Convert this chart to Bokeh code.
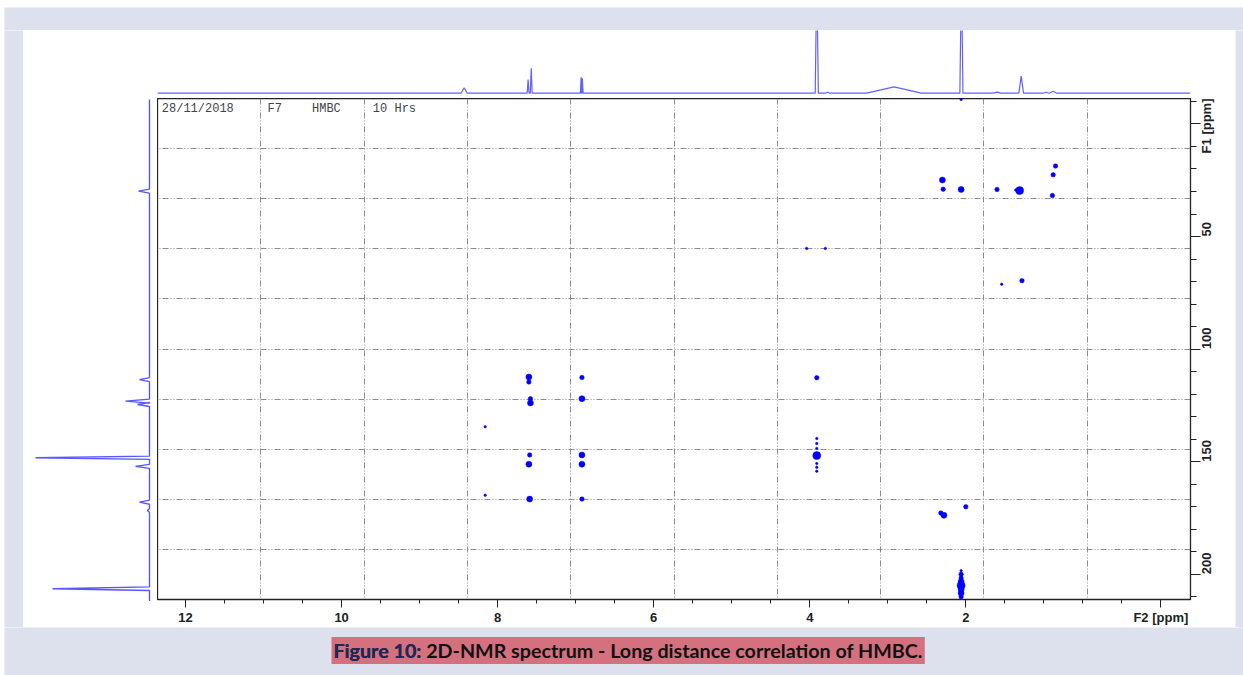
import math
from bokeh.plotting import figure
from bokeh.layouts import column, row
from bokeh.models import Range1d, FixedTicker, Label
from bokeh.embed import file_html
from bokeh.resources import INLINE

# ---------------- data ----------------
# 1H projection along F2: peak position (ppm), height (a.u.), half width (ppm)
h1_ppm = [8.43, 7.61, 7.57, 6.93, 6.915, 3.91, 3.77, 2.92, 2.056, 1.60, 1.29, 0.97, 0.88]
h1_int = [5.4, 13.7, 25.0, 16.0, 15.0, 120.0, 1.0, 6.4, 120.0, 1.0, 17.0, 1.0, 2.0]
h1_wid = [0.04, 0.012, 0.012, 0.01, 0.01, 0.02, 0.03, 0.35, 0.02, 0.05, 0.03, 0.04, 0.05]

# 13C projection along F1: peak position (ppm), height (a.u.), half width (ppm)
c13_ppm = [29.6, 112.8, 122.3, 123.8, 147.3, 151.1, 166.9, 170.6, 205.1]
c13_int = [11.0, 10.0, 24.0, 12.0, 114.0, 14.0, 10.0, 2.0, 97.0]
c13_wid = [0.9, 0.9, 0.9, 0.9, 0.7, 0.9, 0.9, 0.9, 0.8]

# HMBC cross peaks: F2 (1H, ppm), F1 (13C, ppm), contour intensity level (1..4)
xp_f2 = [7.60, 7.60, 7.58, 7.58, 7.59, 7.60, 7.59,
         6.92, 6.92, 6.92, 6.92, 6.92,
         8.16, 8.16,
         3.91, 3.91, 3.91, 3.91, 3.91, 3.91, 3.91, 3.91,
         4.04, 3.80,
         2.30, 2.29, 2.06, 1.60, 1.36, 1.31, 0.85, 0.88, 0.89, 1.54, 1.28,
         2.32, 2.28, 2.00,
         2.06, 2.06, 2.06, 2.06, 2.06, 2.06, 2.06, 2.06,
         2.06]
xp_f1 = [112.4, 114.6, 122.0, 123.9, 147.0, 151.1, 166.6,
         112.6, 122.0, 147.0, 151.1, 166.6,
         134.5, 164.9,
         112.7, 147.3, 139.7, 141.9, 144.1, 150.8, 152.5, 154.2,
         55.3, 55.3,
         24.9, 29.0, 29.1, 29.1, 29.3, 29.6, 18.7, 22.6, 31.8, 71.2, 69.6,
         172.8, 173.8, 170.0,
         198.4, 200.0, 201.7, 203.3, 205.0, 206.7, 208.3, 210.0,
         -10.9]
xp_lvl = [3, 2, 2, 3, 2, 3, 3,
          2, 3, 3, 3, 2,
          1, 1,
          2, 4, 1, 1, 1, 1, 1, 1,
          1, 1,
          3, 2, 3, 2, 1, 4, 2, 2, 2, 1, 2,
          2, 3, 2,
          1, 2, 2, 3, 4, 3, 3, 2,
          1]

x_major = [12, 10, 8, 6, 4, 2, -0.5]
x_labels = {-0.5: "F2 [ppm]"}
y_major = [0, 50, 100, 150, 200]
y_labels = {0: "F1 [ppm]"}
header_texts = ["28/11/2018", "F7", "HMBC", "10 Hrs"]
caption_a = "Figure 10:"
caption_b = "2D-NMR spectrum - Long distance correlation of HMBC."

# ---------------- styling ----------------
LAV = "#dde1ee"
BLUE = "#0000ff"
SPEC = "#4545ff"
F2_LO, F2_HI = -0.88, 12.36
F1_TOP, F1_BOT = -11.3, 211.2
BOTTOM = 25


def stick_trace(ppm, inten, wid, start, end):
    desc = start > end
    order = sorted(range(len(ppm)), key=lambda i: -ppm[i] if desc else ppm[i])
    sgn = 1 if desc else -1
    xs, ys = [start], [0.0]
    for i in order:
        xs += [ppm[i] + sgn * wid[i], ppm[i], ppm[i] - sgn * wid[i]]
        ys += [0.0, inten[i], 0.0]
    xs.append(end)
    ys.append(0.0)
    return xs, ys


def blank(w, h, left=0, top=0):
    f = figure(width=w, height=h, toolbar_location=None, output_backend="svg",
               x_range=Range1d(0, 1), y_range=Range1d(0, 1),
               x_axis_location=None, y_axis_location=None,
               min_border_left=left, min_border_right=0, min_border_top=top, min_border_bottom=0,
               background_fill_color=LAV, border_fill_color="white", outline_line_color=None)
    f.grid.visible = False
    return f


xr = Range1d(F2_HI, F2_LO)
yr = Range1d(F1_BOT, F1_TOP)

# ---------------- main 2D plot ----------------
main = figure(width=1078, height=504 + BOTTOM, x_range=xr, y_range=yr,
              y_axis_location="right", toolbar_location=None, output_backend="svg",
              min_border_left=0, min_border_top=0, min_border_right=45, min_border_bottom=BOTTOM,
              background_fill_color="white", border_fill_color="white",
              outline_line_color="#222222", outline_line_width=1.3)

span_x = F2_LO - F2_HI
span_y = F1_BOT - F1_TOP
main.xgrid.ticker = FixedTicker(ticks=[F2_HI + k * span_x / 10 for k in range(1, 10)])
main.ygrid.ticker = FixedTicker(ticks=[F1_TOP + k * span_y / 10 for k in range(1, 10)])
main.grid.grid_line_color = "#8c8c8c"
main.grid.grid_line_dash = "6 2 1 2 1 2"
main.grid.grid_line_width = 1

xa = main.xaxis[0]
xa.ticker = FixedTicker(ticks=x_major, minor_ticks=[12 - 0.5 * k for k in range(25)])
xa.major_label_overrides = x_labels
xa.major_tick_out = 8
xa.major_tick_in = 0
xa.minor_tick_out = 4
xa.minor_tick_in = 0
xa.major_label_standoff = 2

ya = main.yaxis[0]
ya.ticker = FixedTicker(ticks=y_major, minor_ticks=[-10 + 10 * k for k in range(23)])
ya.major_label_overrides = y_labels
ya.major_label_orientation = math.pi / 2
ya.major_tick_out = 10
ya.major_tick_in = 0
ya.minor_tick_out = 6
ya.minor_tick_in = 0
ya.major_label_standoff = 6

for ax in (xa, ya):
    ax.axis_line_color = "#222222"
    ax.major_tick_line_color = "#222222"
    ax.minor_tick_line_color = "#222222"
    ax.major_label_text_font = "Liberation Sans"
    ax.major_label_text_font_style = "bold"
    ax.major_label_text_font_size = "13px"
    ax.major_label_text_color = "#222222"

sizes = [{1: 2.5, 2: 4.5, 3: 6.0, 4: 8.0}[v] for v in xp_lvl]
main.scatter(x=xp_f2, y=xp_f1, size=sizes, marker="circle",
             fill_color=BLUE, line_color=BLUE, line_width=0.5)

header_x = [12.305, 10.95, 10.38, 9.60]
for t, hx in zip(header_texts, header_x):
    main.add_layout(Label(x=hx, y=-6.6, text=t, text_align="left", text_baseline="middle",
                          text_font="Liberation Mono", text_font_size="12px",
                          text_color="#444444"))

# ---------------- top 1H projection ----------------
top = figure(width=1078, height=68, x_range=xr, y_range=Range1d(-5.3, 62.7),
             toolbar_location=None, output_backend="svg",
             x_axis_location=None, y_axis_location=None,
             min_border_left=0, min_border_right=45, min_border_top=0, min_border_bottom=0,
             background_fill_color="white", border_fill_color="white", outline_line_color=None)
top.grid.visible = False
tx, ty = stick_trace(h1_ppm, h1_int, h1_wid, F2_HI, F2_LO)
top.line(tx, ty, line_color=SPEC, line_width=1.2, line_alpha=0.85)

# ---------------- left 13C projection ----------------
left = figure(width=134, height=68 + 504 + BOTTOM, x_range=Range1d(126, -8), y_range=yr,
              toolbar_location=None, output_backend="svg",
              x_axis_location=None, y_axis_location=None,
              min_border_left=0, min_border_right=0, min_border_top=68, min_border_bottom=BOTTOM,
              background_fill_color="white", border_fill_color="white", outline_line_color=None)
left.grid.visible = False
ly, lx = stick_trace(c13_ppm, c13_int, c13_wid, -10.9, 210.5)
left.line(lx, ly, line_color=SPEC, line_width=1.4, line_alpha=0.9)

# ---------------- caption ----------------
cap = figure(width=1243, height=48, x_range=Range1d(4, 1243), y_range=Range1d(675, 627),
             toolbar_location=None, output_backend="svg",
             x_axis_location=None, y_axis_location=None,
             min_border_left=4, min_border_right=0, min_border_top=0, min_border_bottom=0,
             background_fill_color=LAV, border_fill_color="white", outline_line_color=None)
cap.grid.visible = False
cap.add_layout(Label(x=331, y=650, text=caption_a + " " + caption_b, text_align="left",
                     text_baseline="middle", text_font="Lato", text_font_style="bold",
                     text_font_size="19.7px", text_color="#111111",
                     background_fill_color="#d5707f", padding=2))
cap.add_layout(Label(x=331, y=650, text=caption_a, text_align="left", text_baseline="middle",
                     text_font="Lato", text_font_style="bold", text_font_size="19.7px",
                     text_color="#1b2a5c", padding=2))

# ---------------- page layout ----------------
white_area = row(left, column(top, main))
middle = row(blank(23, 68 + 504 + BOTTOM, left=4), white_area, blank(8, 68 + 504 + BOTTOM))
page = column(blank(1243, 30, left=4, top=7), middle, cap)

open("out.html", "w").write(file_html(page, INLINE))
